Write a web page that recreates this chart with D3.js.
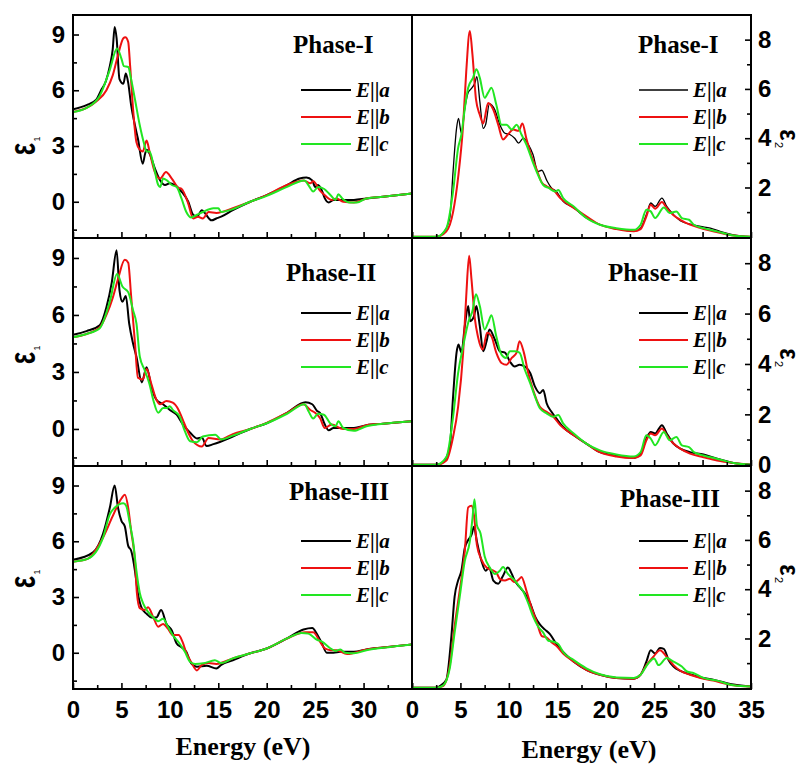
<!DOCTYPE html>
<html><head><meta charset="utf-8">
<script src="https://cdn.jsdelivr.net/npm/d3@7"></script>
<style>body{margin:0;background:#fff}svg{display:block}</style>
</head><body>
<script>
// ---------- DATA ----------
const phases = ["Phase-I","Phase-II","Phase-III"];
const seriesNames = ["a","b","c"];
const xTicksMajor = [0,5,10,15,20,25,30,35];
const xTicksMinor = [2.5,7.5,12.5,17.5,22.5,27.5,32.5];
const eps1Ticks = [0,3,6,9];
const eps1Minor = [-1.5,1.5,4.5,7.5];
const eps2Ticks = [0,2,4,6,8];
const eps2Minor = [1,3,5,7];

// epsilon_1 (real part), Phase-I
const e1_I_a = [[0,4.98],[1.4,5.2],[2.4,5.5],[2.9,6.0],[3.4,6.5],[3.8,7.3],[4.1,8.2],[4.3,9.4],[4.5,8.8],[4.8,6.6],[5.2,6.35],[5.45,6.9],[5.7,6.4],[6.0,5.2],[6.4,4.1],[6.7,3.4],[7.2,2.05],[7.45,2.6],[7.6,2.8],[7.9,2.6],[8.45,1.8],[9.0,1.15],[9.5,0.9],[10.0,1.0],[10.5,0.9],[11.2,0.55],[11.9,0.0],[12.4,-0.7],[12.8,-0.8],[13.3,-0.45],[13.6,-0.6],[14.3,-1.0],[14.8,-0.9],[15.3,-0.8],[16.5,-0.45],[18.3,0.0],[20,0.36],[22.1,0.9],[23.4,1.25],[24.1,1.3],[24.7,1.15],[25.0,0.8],[25.3,0.9],[25.7,0.6],[26.0,0.18],[26.4,-0.04],[26.9,0.09],[27.6,0.09],[29,0.1],[30.3,0.18],[32,0.27],[35,0.45]];
const e1_I_b = [[0,4.83],[1.4,5.05],[2.4,5.4],[3.45,6.0],[4.1,6.8],[4.65,7.9],[5.2,8.8],[5.4,8.85],[5.7,8.6],[5.9,7.3],[6.2,5.0],[6.55,3.2],[6.9,2.8],[7.2,2.7],[7.6,3.3],[7.9,2.7],[8.45,1.6],[9.0,1.25],[9.6,1.6],[10.2,1.25],[10.9,0.75],[11.2,0.7],[11.9,-0.1],[12.4,-0.9],[12.9,-0.8],[13.4,-0.9],[14.0,-0.55],[14.8,-0.6],[16.5,-0.35],[18.3,0],[20,0.36],[22.1,0.9],[23.8,1.15],[24.5,1.0],[24.8,1.1],[25.5,0.6],[26.0,0.35],[26.7,0.1],[27.2,0.18],[27.9,0],[29,-0.04],[30.3,0.18],[32,0.27],[35,0.45]];
const e1_I_c = [[0,4.83],[1.4,5.05],[2.76,5.7],[3.8,7.1],[4.55,8.25],[5.0,7.7],[5.25,7.3],[5.7,7.25],[6.0,6.6],[6.4,5.5],[6.9,4.1],[7.3,3.2],[7.6,2.7],[7.9,2.7],[8.3,2.0],[8.8,0.9],[9.0,0.8],[9.3,1.25],[9.7,1.15],[10.2,0.9],[10.7,0.8],[11.2,0.18],[11.7,-0.55],[12.2,-0.85],[12.8,-0.7],[13.4,-0.55],[14.5,-0.35],[15.0,-0.35],[15.3,-0.55],[16.2,-0.45],[18.3,0],[20,0.32],[22.1,0.8],[23.9,1.15],[24.3,0.9],[24.8,0.55],[25.3,0.8],[25.9,0.7],[26.6,0.35],[27.1,0.1],[27.4,0.4],[27.8,0.18],[28.6,-0.04],[29.3,-0.04],[30.3,0.18],[32,0.27],[35,0.45]];
// Phase-II
const e1_II_a = [[0,4.96],[1.4,5.15],[2.76,5.46],[3.45,6.4],[4.0,7.7],[4.5,9.4],[4.8,7.3],[5.1,6.7],[5.45,7.0],[5.8,5.55],[6.2,4.5],[6.55,3.8],[7.1,2.45],[7.6,3.25],[8.1,2.2],[8.6,1.55],[9.3,1.3],[10,1.0],[10.7,0.75],[11.4,0.2],[12.1,-0.2],[12.8,-0.5],[13.3,-0.45],[13.8,-0.9],[14.5,-0.8],[16.5,-0.4],[18.3,0],[20,0.3],[22.1,0.85],[24.0,1.4],[24.7,1.3],[25.2,0.95],[25.5,0.85],[26.0,0.23],[26.4,-0.07],[26.9,0.05],[29,0.05],[30.3,0.2],[32,0.28],[35,0.41]];
const e1_II_b = [[0,4.83],[1.4,5.0],[2.76,5.35],[3.45,6.0],[4.1,6.9],[4.65,7.9],[5.35,8.9],[5.7,8.75],[6.0,7.0],[6.4,4.5],[6.7,2.7],[7.2,2.6],[7.6,3.15],[8.1,2.35],[8.6,1.55],[9.0,1.3],[9.65,1.47],[10.3,1.38],[10.9,1.0],[11.4,0.4],[11.9,-0.2],[12.4,-0.65],[13.3,-0.92],[14.0,-0.48],[15.2,-0.55],[16.5,-0.27],[18.3,0],[20,0.32],[22.1,0.85],[23.8,1.3],[24.5,1.0],[25.0,0.85],[25.5,0.58],[26.0,0.05],[26.7,0.23],[27.9,0],[29,0],[30.3,0.2],[32,0.28],[35,0.41]];
const e1_II_c = [[0,4.83],[1.4,5.0],[2.76,5.3],[3.8,6.7],[4.55,8.15],[5.1,7.5],[5.7,7.2],[6.2,6.25],[6.55,5.55],[6.9,3.8],[7.4,3.1],[7.9,2.35],[8.3,1.5],[8.8,0.85],[9.3,1.1],[9.7,1.1],[10.0,1.2],[10.3,1.0],[11.0,0.67],[11.55,-0.12],[12.1,-0.65],[12.8,-0.7],[13.4,-0.4],[14.7,-0.3],[15.3,-0.55],[16.5,-0.35],[18.3,0],[20,0.3],[22.1,0.8],[23.9,1.3],[24.3,0.95],[24.8,0.55],[25.3,0.8],[25.9,0.75],[26.6,0.27],[27.1,0.14],[27.4,0.4],[27.9,0.05],[29,-0.1],[30.3,0.14],[32,0.27],[35,0.41]];
// Phase-III
const e1_III_a = [[0,5.0],[2.07,5.4],[3.1,6.4],[3.8,7.8],[4.3,9.0],[4.65,7.8],[5.0,7.1],[5.35,6.8],[5.7,5.75],[6.0,5.5],[6.4,4.4],[6.7,3.2],[7.1,2.4],[7.6,2.1],[8.1,1.9],[8.6,1.9],[9.1,2.3],[9.65,1.55],[10.2,1.2],[10.7,0.5],[11.2,0.3],[11.7,0.05],[12.2,-0.57],[12.8,-0.75],[13.8,-0.7],[14.8,-0.85],[15.3,-0.65],[16.5,-0.4],[18.3,-0.03],[20,0.23],[22.1,0.77],[23.8,1.25],[24.7,1.33],[25.2,1.0],[25.7,0.5],[26.2,0],[26.9,0],[27.6,0.05],[29,0.05],[30.3,0.18],[32,0.28],[35,0.45]];
const e1_III_b = [[0,4.9],[1.5,5.05],[3.1,6.2],[4.1,7.35],[5.0,8.3],[5.35,8.5],[5.7,7.8],[6.0,6.55],[6.4,4.95],[6.6,3.2],[6.9,2.4],[7.4,2.3],[7.75,2.45],[8.3,1.9],[8.8,1.4],[9.3,1.55],[9.8,1.3],[10.3,0.95],[10.9,0.95],[11.3,0.6],[11.7,0],[12.2,-0.5],[12.8,-0.95],[13.3,-0.65],[14.0,-0.55],[14.8,-0.6],[16.5,-0.3],[18.3,-0.03],[20,0.23],[22.1,0.77],[24.0,1.1],[24.8,1.1],[25.5,0.6],[26.0,0.23],[26.6,0.14],[27.2,0.14],[28.3,-0.07],[30.3,0.18],[32,0.28],[35,0.45]];
const e1_III_c = [[0,4.9],[1.5,5.05],[3.1,6.2],[3.8,7.45],[4.3,7.8],[5.2,8.05],[5.5,7.9],[5.85,7.0],[6.2,6.0],[6.55,4.4],[6.9,3.2],[7.25,2.65],[7.75,2.2],[8.3,1.9],[8.8,1.7],[9.3,1.83],[9.8,1.4],[10.3,0.95],[11.0,0.5],[11.55,0.05],[12.1,-0.5],[12.6,-0.6],[13.45,-0.57],[14.65,-0.4],[15.3,-0.55],[16.5,-0.3],[18.3,-0.03],[20,0.23],[22.1,0.77],[23.6,1.07],[24.3,1.03],[25.2,0.7],[25.7,0.6],[26.6,0.23],[27.1,0.1],[27.6,0.18],[28.1,0],[29,-0.03],[30.3,0.14],[32,0.27],[35,0.45]];

// epsilon_2 (imaginary part), Phase-I
const e2_I_a = [[0,0],[2.5,0],[3.2,0.15],[3.9,0.76],[4.24,2.65],[4.6,4.4],[4.8,4.8],[5.1,4.2],[5.45,5.2],[5.8,5.85],[6.1,6.0],[6.5,6.25],[6.7,6.5],[7.0,5.5],[7.35,4.4],[7.6,4.55],[8.0,5.4],[8.55,5.15],[9.07,4.55],[9.6,4.2],[10.1,4.15],[10.6,4.0],[11.0,3.8],[11.5,4.0],[12.0,3.75],[12.5,3.33],[13.0,2.65],[13.4,2.7],[13.9,2.3],[14.4,1.98],[14.9,1.84],[15.6,1.44],[16.7,1.17],[18.0,0.76],[19.4,0.49],[21.1,0.33],[22.9,0.22],[23.6,0.35],[24.2,0.9],[24.65,1.37],[25.1,1.23],[25.8,1.57],[26.3,1.23],[27.0,0.9],[27.7,0.65],[28.7,0.51],[29.8,0.42],[30.8,0.35],[31.8,0.22],[33.2,0.08],[35,0]];
const e2_I_b = [[0,0],[2.5,0],[3.55,0.22],[4.24,1.0],[4.76,2.4],[5.28,4.55],[5.6,6.7],[5.97,8.35],[6.24,7.4],[6.6,5.6],[7.0,4.95],[7.35,4.6],[7.86,5.43],[8.4,5.15],[8.9,4.55],[9.4,3.95],[9.9,4.15],[10.45,4.35],[11.0,4.3],[11.4,4.6],[11.8,4.0],[12.3,3.33],[12.9,2.7],[13.4,2.2],[13.9,2.05],[14.6,1.9],[15.3,1.57],[16.7,1.17],[18.0,0.83],[19.4,0.49],[21.1,0.31],[22.9,0.22],[23.6,0.31],[24.2,0.83],[24.65,1.3],[25.1,1.14],[25.8,1.41],[26.3,1.17],[27.0,0.87],[27.7,0.69],[28.7,0.49],[29.8,0.35],[31.1,0.22],[33.2,0.05],[35,0]];
const e2_I_c = [[0,0],[2.5,0],[3.55,0.35],[4.24,1.84],[4.76,3.6],[5.1,4.15],[5.45,5.2],[5.8,6.05],[6.3,6.45],[6.65,6.8],[7.0,6.45],[7.5,5.64],[7.86,5.85],[8.2,6.05],[8.7,5.37],[9.24,4.55],[9.76,4.55],[10.3,4.35],[10.8,4.55],[11.3,4.15],[11.8,3.75],[12.5,3.0],[13.0,2.52],[13.55,2.1],[14.1,1.98],[14.8,1.84],[15.1,1.9],[15.6,1.57],[16.7,1.23],[18.0,0.76],[19.4,0.49],[21.1,0.35],[22.9,0.28],[23.6,0.49],[24.2,1.1],[24.65,1.03],[25.1,0.76],[26.0,1.19],[26.6,0.96],[27.3,1.03],[27.86,0.76],[28.6,0.69],[29.1,0.49],[30.1,0.35],[31.5,0.22],[33.2,0.05],[35,0]];
// Phase-II
const e2_II_a = [[0,0],[2.5,0],[3.2,0.1],[3.9,0.7],[4.24,2.7],[4.6,4.45],[4.8,4.77],[5.1,4.45],[5.45,5.5],[5.8,6.3],[6.0,5.7],[6.4,5.9],[6.65,6.3],[7.0,5.5],[7.35,4.5],[7.7,4.9],[8.0,5.37],[8.55,4.97],[9.07,4.5],[9.6,4.45],[10.1,4.1],[10.6,3.9],[11.1,3.97],[11.65,3.9],[12.2,3.64],[12.7,3.1],[13.2,2.84],[13.55,2.97],[13.9,2.44],[14.4,2.1],[14.9,1.84],[15.6,1.5],[16.7,1.17],[18.0,0.84],[19.4,0.5],[21.1,0.37],[22.9,0.27],[23.6,0.44],[24.2,1.04],[24.65,1.3],[25.1,1.24],[25.8,1.57],[26.3,1.24],[27.0,0.84],[27.7,0.64],[28.7,0.5],[30.1,0.41],[31.5,0.24],[33.2,0.07],[35,0]];
const e2_II_b = [[0,0],[2.5,0],[3.55,0.17],[4.24,1.1],[4.76,2.3],[5.28,4.45],[5.6,6.7],[5.9,8.3],[6.14,7.37],[6.5,5.77],[6.8,5.1],[7.3,4.57],[7.76,5.24],[8.2,5.1],[8.7,4.45],[9.24,4.04],[9.76,3.97],[10.3,4.24],[10.8,4.45],[11.1,4.9],[11.55,4.45],[12.0,3.64],[12.5,2.97],[13.2,2.3],[13.9,2.1],[14.6,1.9],[15.3,1.57],[16.7,1.17],[18.0,0.84],[19.4,0.5],[21.1,0.33],[22.9,0.27],[23.6,0.37],[24.2,0.97],[24.65,1.24],[25.1,1.17],[25.8,1.44],[26.3,1.17],[27.0,0.84],[27.7,0.64],[28.7,0.44],[30.1,0.3],[31.5,0.17],[33.2,0.07],[35,0]];
const e2_II_c = [[0,0],[2.5,0],[3.55,0.3],[4.24,1.9],[4.76,3.64],[5.28,4.7],[5.8,5.64],[6.24,6.1],[6.6,6.77],[7.0,6.3],[7.5,5.37],[7.86,5.64],[8.2,5.93],[8.7,5.1],[9.24,4.37],[9.7,4.24],[10.1,4.5],[10.6,4.5],[11.1,4.45],[11.65,3.77],[12.2,3.24],[12.7,2.7],[13.2,2.24],[13.9,2.04],[14.6,1.9],[15.1,1.97],[15.6,1.64],[16.7,1.24],[18.0,0.84],[19.4,0.57],[21.1,0.41],[22.9,0.33],[23.6,0.5],[24.2,1.17],[24.65,1.04],[25.1,0.77],[26.0,1.3],[26.6,0.97],[27.3,1.1],[27.86,0.77],[28.6,0.7],[29.1,0.5],[30.1,0.37],[31.5,0.24],[33.2,0.07],[35,0]];
// Phase-III
const e2_III_a = [[0,0],[2.5,0],[2.86,0.07],[3.55,0.33],[4.07,2.1],[4.4,3.7],[4.76,4.35],[5.1,4.75],[5.45,5.67],[5.8,6.0],[6.14,6.2],[6.4,6.53],[6.7,5.94],[7.17,5.15],[7.6,4.75],[7.97,4.88],[8.4,4.35],[8.9,4.22],[9.4,4.55],[9.9,4.88],[10.3,4.62],[10.6,4.35],[11.1,4.09],[11.65,3.83],[12.2,3.43],[12.7,2.9],[13.2,2.57],[13.7,2.37],[14.24,2.18],[14.9,1.78],[15.6,1.45],[16.7,1.06],[18.0,0.73],[19.4,0.53],[21.1,0.4],[22.9,0.37],[23.6,0.53],[24.2,1.06],[24.65,1.52],[25.1,1.39],[25.6,1.61],[26.0,1.58],[26.5,1.12],[27.0,0.86],[27.7,0.69],[28.7,0.55],[29.8,0.42],[31.1,0.33],[33.2,0.13],[35,0.05]];
const e2_III_b = [[0,0],[2.5,0],[3.2,0.07],[3.9,0.92],[4.4,2.5],[4.93,3.96],[5.45,5.54],[5.8,7.32],[6.14,7.39],[6.4,7.0],[6.7,5.8],[7.17,5.2],[7.7,4.88],[8.4,4.75],[8.7,4.68],[9.07,4.42],[9.6,4.35],[10.1,4.42],[10.6,4.29],[11.1,4.42],[11.3,4.5],[11.8,3.96],[12.3,3.3],[12.9,2.64],[13.4,2.1],[13.9,2.04],[14.4,1.85],[14.9,1.7],[15.6,1.39],[16.7,1.06],[18.0,0.73],[19.4,0.53],[21.1,0.4],[22.9,0.37],[23.6,0.53],[24.2,0.92],[24.9,1.25],[25.6,1.52],[26.3,1.25],[27.0,0.92],[27.7,0.69],[28.7,0.53],[29.8,0.4],[31.1,0.29],[33.2,0.1],[35,0.05]];
const e2_III_c = [[0,0],[2.5,0],[3.2,0.09],[3.9,0.79],[4.4,2.24],[4.93,3.7],[5.45,5.15],[5.97,5.94],[6.24,6.86],[6.45,7.65],[6.7,6.6],[7.07,6.27],[7.5,5.34],[8.03,4.88],[8.55,4.62],[9.07,4.75],[9.4,4.9],[9.9,4.62],[10.45,4.42],[11.0,4.16],[11.5,3.9],[12.0,3.43],[12.5,2.9],[13.0,2.5],[13.55,2.24],[14.07,1.91],[14.6,1.87],[15.1,1.78],[15.6,1.45],[16.7,1.12],[18.0,0.79],[19.4,0.55],[21.1,0.42],[22.9,0.4],[23.6,0.53],[24.4,0.99],[25.0,1.19],[25.45,0.92],[26.3,1.21],[27.0,1.06],[27.86,0.86],[28.4,0.66],[29.1,0.59],[30.1,0.4],[31.5,0.29],[33.2,0.1],[35,0.05]];

const eps1Data = [[e1_I_a,e1_I_b,e1_I_c],[e1_II_a,e1_II_b,e1_II_c],[e1_III_a,e1_III_b,e1_III_c]];
const eps2Data = [[e2_I_a,e2_I_b,e2_I_c],[e2_II_a,e2_II_b,e2_II_c],[e2_III_a,e2_III_b,e2_III_c]];

// ---------- LAYOUT ----------
const W = 804, H = 764;
const colors = ["#000000","#ee1111","#22e622"];
const rowTop = [15, 238, 466];
const rowBot = [238, 466, 689];
const leftX = [73, 412], rightX = [412, 751];
const sansBold = "'Liberation Sans', Arial, sans-serif";
const serif = "'Liberation Serif', 'Times New Roman', serif";

const svg = d3.select("body").append("svg").attr("width", W).attr("height", H);
svg.append("rect").attr("width", W).attr("height", H).attr("fill", "#fff");
const defs = svg.append("defs");

const phaseLabelPos = [
  [{x:293,y:53},{x:638,y:53}],
  [{x:286,y:281},{x:608,y:281}],
  [{x:289,y:500},{x:620,y:507}]
];
const epsLabelY = [[149,135],[358,354],[582,570]];

function styleAxis(g) {
  g.select(".domain").remove();
  g.selectAll(".tick line").attr("stroke", "#000").attr("stroke-width", 1.6);
  g.selectAll(".tick text").attr("font-family", sansBold).attr("font-weight", "bold")
    .attr("font-size", 24).attr("fill", "#000");
}

for (let r = 0; r < 3; r++) {
  for (let side = 0; side < 2; side++) {
    const xr = side === 0 ? leftX : rightX;
    const x = d3.scaleLinear().domain([0, 35]).range(xr);
    const y = side === 0
      ? d3.scaleLinear().domain([-1.95, 10.05]).range([rowBot[r], rowTop[r]])
      : d3.scaleLinear().domain([-0.05, 9.0]).range([rowBot[r], rowTop[r]]);
    const data = side === 0 ? eps1Data[r] : eps2Data[r];
    const g = svg.append("g");

    const clipId = `clip-${r}-${side}`;
    defs.append("clipPath").attr("id", clipId).append("rect")
      .attr("x", xr[0]).attr("y", rowTop[r]).attr("width", xr[1] - xr[0]).attr("height", rowBot[r] - rowTop[r]);

    const line = d3.line().x(d => x(d[0])).y(d => y(d[1])).curve(d3.curveMonotoneX);
    const lw = (r === 0 && side === 1) ? [1.3, 2, 2] : [2, 2, 2];
    const cg = g.append("g").attr("clip-path", `url(#${clipId})`);
    data.forEach((ser, i) => {
      cg.append("path").datum(ser).attr("d", line).attr("fill", "none")
        .attr("stroke", colors[i]).attr("stroke-width", lw[i]).attr("stroke-linejoin", "round");
    });

    // bottom axis
    const isBottom = r === 2;
    const bottomLabels = side === 0 ? xTicksMajor.filter(v => v < 35) : xTicksMajor;
    const ax = d3.axisBottom(x).tickValues(xTicksMajor).tickSize(-6).tickPadding(12)
      .tickFormat(v => (isBottom && bottomLabels.includes(v)) ? d3.format("d")(v) : "");
    styleAxis(g.append("g").attr("transform", `translate(0,${rowBot[r]})`).call(ax));
    const axm = d3.axisBottom(x).tickValues(xTicksMinor).tickSize(-4).tickFormat("");
    styleAxis(g.append("g").attr("transform", `translate(0,${rowBot[r]})`).call(axm));

    if (side === 0) {
      const ay = d3.axisLeft(y).tickValues(eps1Ticks).tickSize(-6).tickPadding(8).tickFormat(d3.format("d"));
      styleAxis(g.append("g").attr("transform", `translate(${xr[0]},0)`).call(ay));
      const aym = d3.axisLeft(y).tickValues(eps1Minor).tickSize(-4).tickFormat("");
      styleAxis(g.append("g").attr("transform", `translate(${xr[0]},0)`).call(aym));
    } else {
      const vals = r === 1 ? eps2Ticks : eps2Ticks.filter(v => v > 0);
      const ay = d3.axisRight(y).tickValues(vals).tickSize(-6).tickPadding(7).tickFormat(d3.format("d"));
      styleAxis(g.append("g").attr("transform", `translate(${xr[1]},0)`).call(ay));
      const aym = d3.axisRight(y).tickValues(eps2Minor).tickSize(-4).tickFormat("");
      styleAxis(g.append("g").attr("transform", `translate(${xr[1]},0)`).call(aym));
    }

    // frame
    g.append("rect").attr("x", xr[0]).attr("y", rowTop[r]).attr("width", xr[1] - xr[0])
      .attr("height", rowBot[r] - rowTop[r]).attr("fill", "none").attr("stroke", "#000").attr("stroke-width", 2);

    // phase label
    const pp = phaseLabelPos[r][side];
    g.append("text").attr("x", pp.x).attr("y", pp.y).attr("font-family", serif)
      .attr("font-weight", "bold").attr("font-size", 25).attr("fill", "#000").text(phases[r]);

    // legend
    const legOff = [75, 102, 129];
    const lx0 = xr[1] - (side === 0 ? 111 : 112), lx1 = xr[1] - (side === 0 ? 61 : 63);
    seriesNames.forEach((nm, i) => {
      const ly = rowTop[r] + legOff[i];
      g.append("line").attr("x1", lx0).attr("x2", lx1).attr("y1", ly).attr("y2", ly)
        .attr("stroke", colors[i]).attr("stroke-width", lw[i]);
      const t = g.append("text").attr("x", lx1 + 5).attr("y", ly + 7).attr("font-family", serif)
        .attr("font-weight", "bold").attr("font-size", 21).attr("fill", "#000");
      t.append("tspan").attr("font-style", "italic").text("E");
      t.append("tspan").text("||");
      t.append("tspan").attr("font-style", "italic").text(nm);
    });

    // epsilon axis label (tall epsilon, rotated like the original)
    const ey = epsLabelY[r][side];
    if (side === 0) {
      g.append("text").attr("transform", `translate(35,${ey}) rotate(-90) scale(1,1.42)`)
        .attr("text-anchor", "middle").attr("font-family", sansBold).attr("font-weight", "bold")
        .attr("font-size", 26).attr("fill", "#000").text("ε");
      g.append("text").attr("transform", `translate(40,${ey - 10}) rotate(-90)`)
        .attr("text-anchor", "middle").attr("font-family", sansBold)
        .attr("font-size", 9).attr("fill", "#000").text("1");
    } else {
      g.append("text").attr("transform", `translate(780,${ey}) rotate(90) scale(1,1.12)`)
        .attr("text-anchor", "middle").attr("font-family", sansBold).attr("font-weight", "bold")
        .attr("font-size", 24).attr("fill", "#000").text("ε");
      g.append("text").attr("transform", `translate(775,${ey + 10}) rotate(90)`)
        .attr("text-anchor", "middle").attr("font-family", sansBold)
        .attr("font-size", 11).attr("fill", "#000").text("2");
    }
  }
}

// x axis titles
[[243, 755], [589, 758]].forEach(p => {
  svg.append("text").attr("x", p[0]).attr("y", p[1]).attr("text-anchor", "middle")
    .attr("font-family", serif).attr("font-weight", "bold").attr("font-size", 26).attr("fill", "#000")
    .text("Energy (eV)");
});
</script>
</body></html>
